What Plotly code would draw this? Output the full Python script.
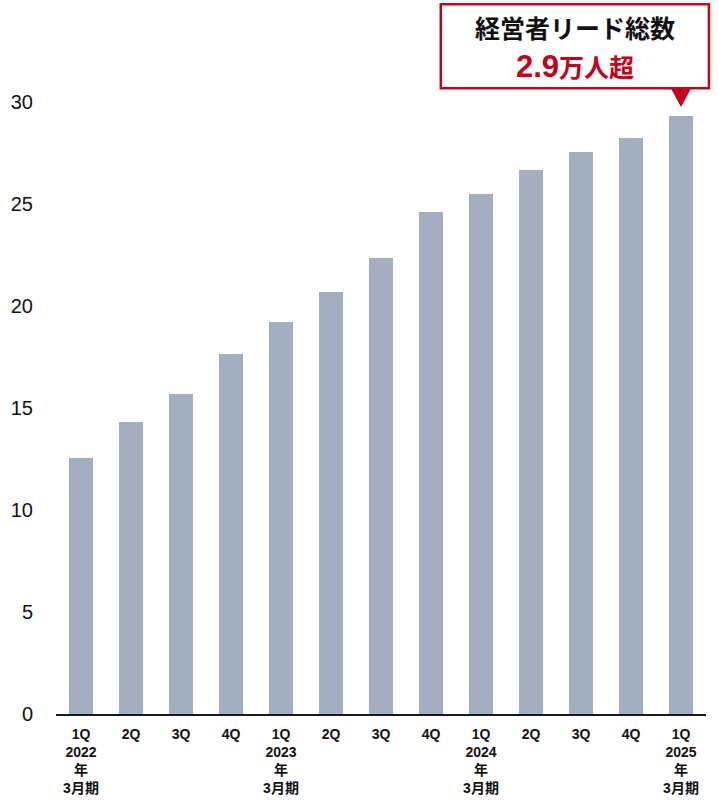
import plotly.graph_objects as go

# Quarterly executive-lead totals (unit: 10,000 people)
quarters = ["1Q", "2Q", "3Q", "4Q", "1Q", "2Q", "3Q", "4Q", "1Q", "2Q", "3Q", "4Q", "1Q"]
fiscal_years = ["2022", "", "", "", "2023", "", "", "", "2024", "", "", "", "2025"]
lead_totals = [12.55, 14.31, 15.69, 17.65, 19.22, 20.69, 22.35, 24.61, 25.49, 26.67, 27.55, 28.24, 29.31]
y_ticks = [0, 5, 10, 15, 20, 25, 30]

callout_title = "経営者リード総数"
callout_value = "2.9"
callout_unit = "万人超"

BAR_COLOR = "#A3AEC1"
RED = "#C4001A"
FONT = "Liberation Sans, Arial, Noto Sans CJK JP"
CJK = "Noto Sans CJK JP, Liberation Sans"

x_pos = list(range(len(quarters)))
tick_text = []
for q, fy in zip(quarters, fiscal_years):
    if fy:
        tick_text.append(f"{q}<br>{fy}<br>年<br>3月期")
    else:
        tick_text.append(q)

fig = go.Figure()
fig.add_trace(go.Bar(
    x=x_pos,
    y=lead_totals,
    width=0.48,
    marker=dict(color=BAR_COLOR, line=dict(width=0)),
    hoverinfo="skip",
))

fig.update_layout(
    width=719,
    height=800,
    margin=dict(l=56, r=13, t=0, b=86),
    paper_bgcolor="white",
    plot_bgcolor="white",
    showlegend=False,
    font=dict(family=FONT, color="#111111"),
    xaxis=dict(
        range=[-0.5, len(quarters) - 0.5],
        tickmode="array",
        tickvals=x_pos,
        ticktext=tick_text,
        tickfont=dict(family=FONT, size=14, color="#111111", weight="bold"),
        showline=True,
        linecolor="#1a1a1a",
        linewidth=2,
        ticks="",
        showgrid=False,
        zeroline=False,
        ticklabelstandoff=6,
        fixedrange=True,
    ),
    yaxis=dict(
        range=[0, 35.0],
        tickmode="array",
        tickvals=y_ticks,
        ticktext=[str(v) for v in y_ticks],
        tickfont=dict(family=FONT, size=20, color="#111111"),
        showline=False,
        showgrid=False,
        zeroline=False,
        ticks="",
        ticklabelstandoff=22,
        fixedrange=True,
    ),
)

# Callout box above the latest quarter
last_i = len(lead_totals) - 1
last_v = lead_totals[last_i]
fig.add_shape(
    type="rect",
    xref="paper", yref="paper",
    x0=0.592, x1=1.0045, y0=0.8765, y1=0.994,
    line=dict(color=RED, width=2.5),
    fillcolor="white",
    layer="above",
)
# Pointer triangle aimed at the latest bar
tip_y = last_v + 0.45
base_y = tip_y + 0.95
fig.add_shape(
    type="path",
    xref="x", yref="y",
    path=f"M {last_i - 0.21},{base_y} L {last_i + 0.21},{base_y} L {last_i},{tip_y} Z",
    fillcolor=RED,
    line=dict(color=RED, width=0),
    layer="above",
)

fig.add_annotation(
    xref="paper", yref="paper",
    x=0.7985, y=0.962,
    text=f"<b>{callout_title}</b>",
    showarrow=False,
    font=dict(family=CJK, size=25, color="#111111"),
    xanchor="center", yanchor="middle",
)
fig.add_annotation(
    xref="paper", yref="paper",
    x=0.7985, y=0.907,
    text=(f"<b><span style='font-family:Liberation Sans;font-size:31px'>{callout_value}</span>"
          f"{callout_unit}</b>"),
    showarrow=False,
    font=dict(family=CJK, size=25, color=RED),
    xanchor="center", yanchor="middle",
)

fig.write_html("out.html")
